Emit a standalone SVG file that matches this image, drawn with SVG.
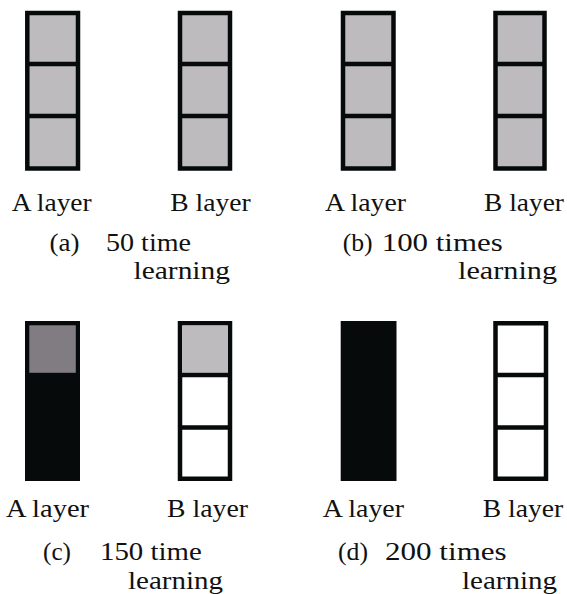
<svg xmlns="http://www.w3.org/2000/svg" width="567" height="594" viewBox="0 0 567 594">
<style>
.cell{stroke:#060a0b;stroke-width:4.5;}
.gray{fill:#bdbbbe;}
.white{fill:#ffffff;}
.dark{fill:#807c81;}
.blk{fill:#060a0b;}
.div{stroke:#060a0b;stroke-width:4.5;fill:none;}
text{font-family:"Liberation Serif","Times New Roman",serif;font-size:25px;fill:#111;}
</style>
<rect width="567" height="594" fill="#ffffff"/>

<g id="panel-a">
  <g id="a-A">
    <rect class="cell gray" x="27.3" y="13" width="50.7" height="155.5"/>
    <line class="div" x1="27.3" y1="64" x2="78" y2="64"/>
    <line class="div" x1="27.3" y1="116" x2="78" y2="116"/>
  </g>
  <g id="a-B">
    <rect class="cell gray" x="180" y="13" width="50" height="155.5"/>
    <line class="div" x1="180" y1="64" x2="230" y2="64"/>
    <line class="div" x1="180" y1="116" x2="230" y2="116"/>
  </g>
  <text x="11.7" y="210.7" textLength="80" lengthAdjust="spacingAndGlyphs">A layer</text>
  <text x="170.3" y="210.7" textLength="80.5" lengthAdjust="spacingAndGlyphs">B layer</text>
  <text x="49.5" y="251" textLength="30" lengthAdjust="spacingAndGlyphs">(a)</text>
  <text x="106" y="251" textLength="85" lengthAdjust="spacingAndGlyphs">50 time</text>
  <text x="133.5" y="278.5" textLength="96.5" lengthAdjust="spacingAndGlyphs">learning</text>
</g>

<g id="panel-b">
  <g id="b-A">
    <rect class="cell gray" x="343" y="13" width="50.5" height="155.5"/>
    <line class="div" x1="343" y1="64" x2="393.5" y2="64"/>
    <line class="div" x1="343" y1="116" x2="393.5" y2="116"/>
  </g>
  <g id="b-B">
    <rect class="cell gray" x="495.5" y="13" width="49" height="155.5"/>
    <line class="div" x1="495.5" y1="64" x2="544.5" y2="64"/>
    <line class="div" x1="495.5" y1="116" x2="544.5" y2="116"/>
  </g>
  <text x="325" y="210.7" textLength="81" lengthAdjust="spacingAndGlyphs">A layer</text>
  <text x="484" y="210.7" textLength="80" lengthAdjust="spacingAndGlyphs">B layer</text>
  <text x="342.7" y="251" textLength="30" lengthAdjust="spacingAndGlyphs">(b)</text>
  <text x="381.7" y="251" textLength="121" lengthAdjust="spacingAndGlyphs">100  times</text>
  <text x="458" y="278.5" textLength="99" lengthAdjust="spacingAndGlyphs">learning</text>
</g>

<g id="panel-c">
  <g id="c-A">
    <rect class="blk" x="25" y="321" width="55" height="160"/>
    <rect class="dark" x="29.3" y="325.3" width="46.5" height="47.5"/>
  </g>
  <g id="c-B">
    <rect class="cell white" x="180" y="323.25" width="50" height="155.5"/>
    <rect class="gray" x="182.25" y="325.5" width="45.5" height="47.25"/>
    <line class="div" x1="180" y1="375" x2="230" y2="375"/>
    <line class="div" x1="180" y1="427.5" x2="230" y2="427.5"/>
  </g>
  <text x="6" y="516.7" textLength="83" lengthAdjust="spacingAndGlyphs">A layer</text>
  <text x="167" y="516.7" textLength="81" lengthAdjust="spacingAndGlyphs">B layer</text>
  <text x="43" y="560" textLength="28" lengthAdjust="spacingAndGlyphs">(c)</text>
  <text x="100" y="560" textLength="101.7" lengthAdjust="spacingAndGlyphs">150 time</text>
  <text x="128" y="588.5" textLength="95" lengthAdjust="spacingAndGlyphs">learning</text>
</g>

<g id="panel-d">
  <g id="d-A">
    <rect class="blk" x="340.7" y="321" width="55.8" height="160"/>
  </g>
  <g id="d-B">
    <rect class="cell white" x="495.5" y="323.25" width="50.5" height="155.5"/>
    <line class="div" x1="495.5" y1="375" x2="546" y2="375"/>
    <line class="div" x1="495.5" y1="427.5" x2="546" y2="427.5"/>
  </g>
  <text x="322.7" y="516.7" textLength="81.3" lengthAdjust="spacingAndGlyphs">A layer</text>
  <text x="482.7" y="516.7" textLength="80.6" lengthAdjust="spacingAndGlyphs">B layer</text>
  <text x="338" y="560" textLength="30" lengthAdjust="spacingAndGlyphs">(d)</text>
  <text x="385" y="560" textLength="121.7" lengthAdjust="spacingAndGlyphs">200  times</text>
  <text x="462" y="588.5" textLength="95" lengthAdjust="spacingAndGlyphs">learning</text>
</g>

<g id="connectors"/>
</svg>
